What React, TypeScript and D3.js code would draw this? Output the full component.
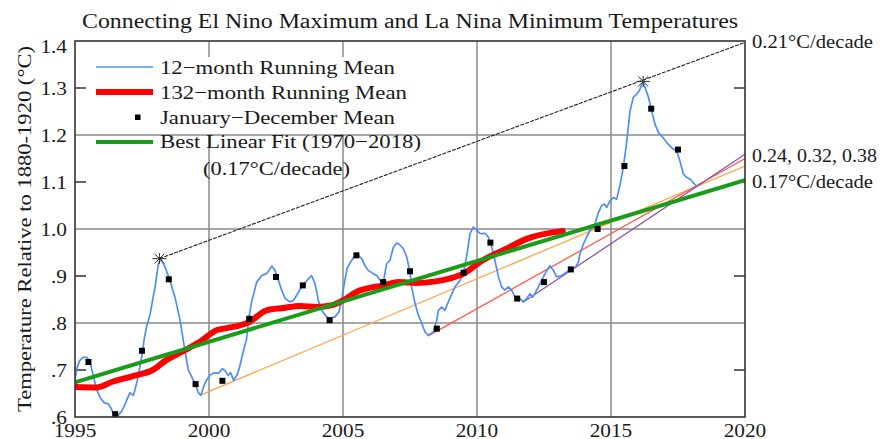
import React from "react";
import * as d3 from "d3";

// 12-month running mean [year, anomaly]
const runMean12: [number, number][] = [
  [1995.0, 0.68], [1995.08, 0.705], [1995.17, 0.72], [1995.3, 0.727], [1995.44, 0.727],
  [1995.56, 0.718], [1995.68, 0.688], [1995.8, 0.66], [1995.95, 0.64], [1996.1, 0.63],
  [1996.24, 0.628], [1996.35, 0.618], [1996.49, 0.6], [1996.6, 0.603], [1996.74, 0.612],
  [1996.85, 0.625], [1996.93, 0.636], [1997.05, 0.652], [1997.18, 0.646], [1997.3, 0.672],
  [1997.4, 0.7], [1997.49, 0.728], [1997.58, 0.765], [1997.67, 0.792], [1997.8, 0.818],
  [1997.9, 0.85], [1997.99, 0.877], [1998.11, 0.926], [1998.2, 0.937], [1998.36, 0.919],
  [1998.54, 0.891], [1998.73, 0.855], [1998.92, 0.806], [1999.1, 0.742], [1999.23, 0.7],
  [1999.41, 0.679], [1999.5, 0.668], [1999.6, 0.652], [1999.7, 0.646], [1999.8, 0.665],
  [1999.92, 0.68], [2000.05, 0.69], [2000.2, 0.694], [2000.35, 0.693], [2000.5, 0.703],
  [2000.6, 0.698], [2000.72, 0.688], [2000.8, 0.695], [2000.92, 0.678], [2001.05, 0.69],
  [2001.15, 0.708], [2001.28, 0.74], [2001.4, 0.765], [2001.5, 0.815], [2001.6, 0.848],
  [2001.78, 0.887], [2001.97, 0.901], [2002.15, 0.905], [2002.34, 0.921], [2002.46, 0.912],
  [2002.59, 0.891], [2002.71, 0.87], [2002.84, 0.852], [2003.02, 0.845], [2003.15, 0.848],
  [2003.27, 0.859], [2003.46, 0.877], [2003.65, 0.89], [2003.83, 0.901], [2003.96, 0.883],
  [2004.08, 0.848], [2004.2, 0.827], [2004.39, 0.813], [2004.5, 0.81], [2004.7, 0.813],
  [2004.85, 0.824], [2004.95, 0.848], [2005.05, 0.885], [2005.15, 0.915], [2005.28, 0.93],
  [2005.4, 0.94], [2005.57, 0.944], [2005.7, 0.937], [2005.82, 0.922], [2005.94, 0.912],
  [2006.13, 0.905], [2006.26, 0.901], [2006.38, 0.891], [2006.5, 0.884], [2006.57, 0.908],
  [2006.63, 0.926], [2006.75, 0.933], [2006.88, 0.961], [2007.0, 0.97], [2007.09, 0.968],
  [2007.25, 0.958], [2007.38, 0.94], [2007.5, 0.908], [2007.56, 0.877], [2007.69, 0.841],
  [2007.81, 0.817], [2007.94, 0.799], [2008.06, 0.781], [2008.18, 0.774], [2008.37, 0.781],
  [2008.5, 0.806], [2008.56, 0.827], [2008.68, 0.834], [2008.8, 0.827], [2008.93, 0.845],
  [2009.06, 0.862], [2009.18, 0.877], [2009.37, 0.891], [2009.5, 0.908], [2009.62, 0.944],
  [2009.74, 0.99], [2009.86, 1.004], [2009.99, 0.998], [2010.1, 0.991], [2010.2, 0.99],
  [2010.3, 0.991], [2010.42, 0.983], [2010.55, 0.962], [2010.67, 0.933], [2010.8, 0.898],
  [2010.92, 0.877], [2011.04, 0.87], [2011.17, 0.877], [2011.29, 0.87], [2011.42, 0.855],
  [2011.6, 0.852], [2011.73, 0.845], [2011.85, 0.852], [2011.98, 0.862], [2012.08, 0.855],
  [2012.18, 0.865], [2012.29, 0.877], [2012.41, 0.891], [2012.54, 0.905], [2012.72, 0.922],
  [2012.85, 0.912], [2012.97, 0.898], [2013.16, 0.901], [2013.34, 0.908], [2013.53, 0.915],
  [2013.66, 0.918], [2013.78, 0.929], [2013.84, 0.947], [2013.97, 0.968], [2014.09, 0.983],
  [2014.22, 0.997], [2014.4, 1.01], [2014.53, 1.035], [2014.65, 1.05], [2014.75, 1.053],
  [2014.84, 1.046], [2014.96, 1.06], [2015.09, 1.067], [2015.21, 1.063], [2015.34, 1.095],
  [2015.46, 1.131], [2015.59, 1.187], [2015.71, 1.251], [2015.83, 1.28], [2015.96, 1.287],
  [2016.06, 1.294], [2016.15, 1.308], [2016.2, 1.312], [2016.27, 1.301], [2016.4, 1.28],
  [2016.52, 1.251], [2016.64, 1.223], [2016.77, 1.205], [2016.89, 1.198], [2016.99, 1.191],
  [2017.14, 1.18], [2017.32, 1.17], [2017.45, 1.166], [2017.57, 1.145], [2017.7, 1.117],
  [2017.82, 1.11], [2017.95, 1.106], [2018.07, 1.099], [2018.17, 1.092],
];

// 132-month running mean
const runMean132: [number, number][] = [
  [1995.0, 0.664], [1995.8, 0.663], [1996.4, 0.675], [1997.3, 0.689], [1997.9, 0.7],
  [1998.4, 0.721], [1999.0, 0.739], [1999.66, 0.76], [2000.3, 0.785], [2000.66, 0.789],
  [2001.5, 0.802], [2002.15, 0.827], [2002.77, 0.832], [2003.4, 0.836], [2004.0, 0.834],
  [2004.6, 0.838], [2005.0, 0.848], [2005.5, 0.866], [2006.5, 0.88], [2007.1, 0.887],
  [2007.75, 0.885], [2008.4, 0.888], [2009.0, 0.895], [2009.5, 0.905], [2010.2, 0.933],
  [2011.1, 0.958], [2011.85, 0.979], [2013.2, 0.996],
];

// January-December means
const annualYears = [1995, 1996, 1997, 1998, 1999, 2000, 2001, 2002, 2003, 2004, 2005, 2006,
  2007, 2008, 2009, 2010, 2011, 2012, 2013, 2014, 2015, 2016, 2017];
const annualMeans = [0.717, 0.606, 0.741, 0.893, 0.67, 0.677, 0.809, 0.898, 0.88, 0.806, 0.944,
  0.887, 0.91, 0.788, 0.907, 0.971, 0.852, 0.887, 0.914, 1.0, 1.134, 1.256, 1.169];

// El Nino peaks (stars)
const elNinoPeaks: [number, number][] = [[1998.15, 0.937], [2016.2, 1.314]];

// trend lines: start and end points
const elNinoLine: [number, number][] = [[1998.15, 0.937], [2020, 1.397]];
const bestFit: [number, number][] = [[1995, 0.674], [2020, 1.104]];
const laNina1999: [number, number][] = [[1999.7, 0.647], [2020, 1.134]];
const laNina2008: [number, number][] = [[2008.17, 0.772], [2020, 1.15]];
const laNina2011: [number, number][] = [[2011.72, 0.844], [2020, 1.159]];

const xTicks = [1995, 2000, 2005, 2010, 2015, 2020];
const xGrid = [2000, 2005, 2010, 2015];
const yTicks = [0.6, 0.7, 0.8, 0.9, 1.0, 1.1, 1.2, 1.3, 1.4];
const yTickLabels = [".6", ".7", ".8", ".9", "1.0", "1.1", "1.2", "1.3", "1.4"];
const yGrid = [0.8, 1.0, 1.2];
const yMinor = [0.7, 0.9, 1.1, 1.3];

const W = 883;
const H = 439;
const m = { left: 75, right: 745, top: 41, bottom: 417 };
const FONT = "'Liberation Serif', 'DejaVu Serif', serif";
const INK = "#1a1a1a";

export default function App() {
  const x = d3.scaleLinear().domain([1995, 2020]).range([m.left, m.right]);
  const y = d3.scaleLinear().domain([0.6, 1.4]).range([m.bottom, m.top]);
  const line = d3.line<[number, number]>().x((d) => x(d[0])).y((d) => y(d[1]));
  const smooth = d3
    .line<[number, number]>()
    .x((d) => x(d[0]))
    .y((d) => y(d[1]))
    .curve(d3.curveMonotoneX);

  const star = (cx: number, cy: number, i: number) => {
    const r = 7;
    return (
      <g key={i} stroke="#333" strokeWidth={1}>
        {[0, 45, 90, 135].map((a) => {
          const rad = (a * Math.PI) / 180;
          const rx = a === 90 ? r * 0.8 : r;
          return (
            <line key={a} x1={cx - Math.cos(rad) * rx} y1={cy - Math.sin(rad) * rx}
              x2={cx + Math.cos(rad) * rx} y2={cy + Math.sin(rad) * rx} />
          );
        })}
      </g>
    );
  };

  return (
    <svg width={W} height={H} style={{ position: "absolute", left: 0, top: 0, background: "#fff" }}
      fontFamily={FONT}>
      <defs>
        <clipPath id="plot">
          <rect x={m.left} y={m.top} width={m.right - m.left} height={m.bottom - m.top} />
        </clipPath>
      </defs>
      <rect width={W} height={H} fill="#fff" />

      <text x={410} y={28} textAnchor="middle" fontSize={20} fill={INK}
        textLength={656} lengthAdjust="spacingAndGlyphs">
        Connecting El Nino Maximum and La Nina Minimum Temperatures
      </text>

      {/* grid */}
      {xGrid.map((v) => (
        <line key={v} x1={x(v)} x2={x(v)} y1={m.top} y2={m.bottom} stroke="#8a8a8a" strokeWidth={1.5} />
      ))}
      {yGrid.map((v) => (
        <line key={v} x1={m.left} x2={m.right} y1={y(v)} y2={y(v)} stroke="#8a8a8a" strokeWidth={1.5} />
      ))}
      {yMinor.map((v) => (
        <g key={v} stroke="#333" strokeWidth={1.5}>
          <line x1={m.left} x2={m.left + 11} y1={y(v)} y2={y(v)} />
          <line x1={m.right - 11} x2={m.right} y1={y(v)} y2={y(v)} />
        </g>
      ))}

      {/* legend backdrop */}
      <rect x={95} y={57} width={330} height={77} fill="#fff" />

      <g clipPath="url(#plot)" fill="none">
        <path d={line(laNina1999) || ""} stroke="#ffa446" strokeWidth={1.3} />
        <path d={line(laNina2008) || ""} stroke="#ff5a4a" strokeWidth={1.3} />
        <path d={line(laNina2011) || ""} stroke="#9152b0" strokeWidth={1.3} />
        <path d={line(runMean12) || ""} stroke="#4f8ef5" strokeWidth={1.7} strokeLinejoin="round" />
        <path d={smooth(runMean132) || ""} stroke="#ff0000" strokeWidth={6} strokeLinecap="round" />
        <path d={line(bestFit) || ""} stroke="#1a9c1a" strokeWidth={4} />
        <path d={line(elNinoLine) || ""} stroke="#222" strokeWidth={1.1} strokeDasharray="4,1.2" />
      </g>

      {annualYears.map((yr, i) => (
        <rect key={yr} x={x(yr + 0.5) - 3} y={y(annualMeans[i]) - 3} width={6} height={6} fill="#000" />
      ))}
      {elNinoPeaks.map((p, i) => star(x(p[0]), y(p[1]), i))}

      {/* frame */}
      <rect x={m.left} y={m.top} width={m.right - m.left} height={m.bottom - m.top} fill="none"
        stroke="#333" strokeWidth={1.6} />

      {/* axes labels */}
      {yTicks.map((v, i) => (
        <text key={v} x={67} y={Math.max(y(v) + 7, m.top + 12)} textAnchor="end" fontSize={19} fill={INK}
          transform={`translate(67,0) scale(1.12,1) translate(-67,0)`}>
          {yTickLabels[i]}
        </text>
      ))}
      {xTicks.map((v) => (
        <text key={v} x={x(v)} y={437} textAnchor="middle" fontSize={19} fill={INK}
          transform={`translate(${x(v)},0) scale(1.12,1) translate(${-x(v)},0)`}>
          {v}
        </text>
      ))}
      <text transform="translate(31,229) rotate(-90)" textAnchor="middle" fontSize={19} fill={INK}
        textLength={366} lengthAdjust="spacingAndGlyphs">
        Temperature Relative to 1880-1920 (°C)
      </text>

      {/* right annotations */}
      <text x={752} y={48} fontSize={19} fill={INK} textLength={121} lengthAdjust="spacingAndGlyphs">
        0.21°C/decade
      </text>
      <text x={752} y={162} fontSize={19} fill={INK} textLength={125} lengthAdjust="spacingAndGlyphs">
        0.24, 0.32, 0.38
      </text>
      <text x={752} y={188} fontSize={19} fill={INK} textLength={121} lengthAdjust="spacingAndGlyphs">
        0.17°C/decade
      </text>

      {/* legend */}
      <line x1={96} x2={153} y1={67} y2={67} stroke="#4f8ef5" strokeWidth={1.7} />
      <text x={160} y={74} fontSize={19} fill={INK} textLength={235} lengthAdjust="spacingAndGlyphs">
        12−month Running Mean
      </text>
      <line x1={96} x2={153} y1={92} y2={92} stroke="#ff0000" strokeWidth={6} />
      <text x={160} y={99} fontSize={19} fill={INK} textLength={247} lengthAdjust="spacingAndGlyphs">
        132−month Running Mean
      </text>
      <rect x={135} y={114.5} width={5.5} height={5.5} fill="#000" />
      <text x={160} y={124} fontSize={19} fill={INK} textLength={235} lengthAdjust="spacingAndGlyphs">
        January−December Mean
      </text>
      <line x1={96} x2={153} y1={142} y2={142} stroke="#1a9c1a" strokeWidth={4} />
      <text x={160} y={148} fontSize={19} fill={INK} textLength={261} lengthAdjust="spacingAndGlyphs">
        Best Linear Fit (1970−2018)
      </text>
      <text x={203} y={175} fontSize={19} fill={INK} textLength={147} lengthAdjust="spacingAndGlyphs">
        (0.17°C/decade)
      </text>
    </svg>
  );
}
